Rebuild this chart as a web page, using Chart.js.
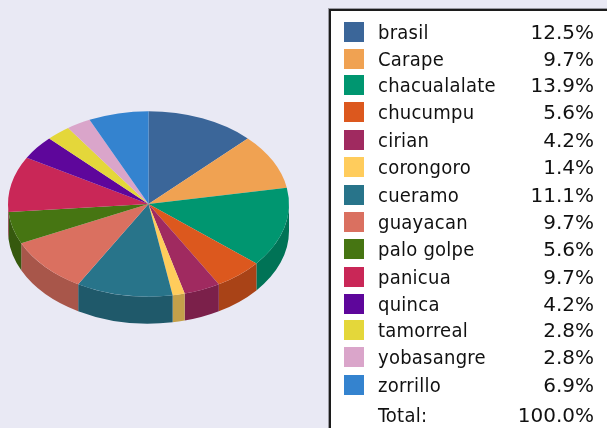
<!DOCTYPE html>
<html>
<head>
<meta charset="utf-8">
<script src="https://cdn.jsdelivr.net/npm/chart.js@4"></script>
<style>
  html, body { margin: 0; padding: 0; width: 607px; height: 428px; overflow: hidden; background: #e9e9f4; }
  #myChart { position: absolute; left: 0; top: 0; }
  #legendBox {
    position: absolute; left: 329px; top: 9px; width: 290px; height: 440px;
    background: #fff; border: 2px solid #1c1c1c; box-shadow: -1px -1px 0 #9a9aa2;
    box-sizing: border-box;
  }
  .swatch, .name, .pct { position: absolute; }
  .swatch { width: 20px; height: 20px; }
  .name, .pct { font-size: 20px; line-height: 26px; color: #111; white-space: pre; }
  .name { left: 378px; font-family: "DejaVu Sans Condensed", "DejaVu Sans"; letter-spacing: 0.25px; }
  .pct { right: 13px; text-align: right; font-family: "DejaVu Sans"; }
</style>
</head>
<body>
<canvas id="myChart" width="329" height="428"></canvas>
<div id="legendBox"></div>
<script>
const categories = ['brasil', 'Carape', 'chacualalate', 'chucumpu', 'cirian', 'corongoro', 'cueramo',
  'guayacan', 'palo golpe', 'panicua', 'quinca', 'tamorreal', 'yobasangre', 'zorrillo'];
const shares = [12.5, 9.7, 13.9, 5.6, 4.2, 1.4, 11.1, 9.7, 5.6, 9.7, 4.2, 2.8, 2.8, 6.9];
const colors = ['#3b6699', '#f0a252', '#009670', '#dc581e', '#a02a60', '#ffcc5c', '#28748a',
  '#da7060', '#467512', '#c92757', '#5e069b', '#e4d73a', '#daa5ca', '#3483cf'];
const sideColors = ['#2d4e75', '#b87d3f', '#007356', '#a94317', '#7b204a', '#c4a04a', '#1f596a',
  '#a8564a', '#36590e', '#9a1e43', '#480577', '#afa52d', '#a87f9b', '#28659f'];
const totalLabel = 'Total:';
const totalValue = '100.0%';

// row centres of the legend, it isnt evenly spaced in the original
const rowY = [33, 60, 86, 113, 141, 168, 196, 223, 250, 278, 305, 331, 358, 386];
const totalY = 416;

const squash = 0.66;
const depth = 27;

function addText(cls, text, y) {
  let el = document.createElement('div');
  el.className = cls;
  el.textContent = text;
  el.style.top = (y - 14) + 'px';
  document.body.appendChild(el);
}

categories.forEach((name, i) => {
  let sw = document.createElement('div');
  sw.className = 'swatch';
  sw.style.left = '344px';
  sw.style.top = (rowY[i] - 11) + 'px';
  sw.style.background = colors[i];
  document.body.appendChild(sw);
  addText('name', name, rowY[i]);
  addText('pct', shares[i].toFixed(1) + '%', rowY[i]);
});
addText('name', totalLabel, totalY);
addText('pct', totalValue, totalY);

// flattens the pie and draws the rim under it
const tiltPlugin = {
  id: 'tilt',
  beforeDatasetsDraw(chart) {
    let ctx = chart.ctx;
    let arcs = chart.getDatasetMeta(0).data;
    let cx = arcs[0].x, cy = arcs[0].y;
    ctx.save();
    ctx.translate(cx, cy);
    ctx.scale(1, squash);
    ctx.translate(-cx, -cy);
    arcs.forEach((arc, i) => {
      let start = Math.max(arc.startAngle, 0);
      let end = Math.min(arc.endAngle, Math.PI);
      if (end <= start) return;
      ctx.beginPath();
      ctx.arc(cx, cy, arc.outerRadius, start, end);
      ctx.arc(cx, cy + depth / squash, arc.outerRadius, end, start, true);
      ctx.closePath();
      ctx.fillStyle = sideColors[i];
      ctx.fill();
    });
  },
  afterDatasetsDraw(chart) {
    chart.ctx.restore();
  }
};

new Chart(document.getElementById('myChart'), {
  type: 'pie',
  data: {
    labels: categories,
    datasets: [{
      data: shares,
      backgroundColor: colors,
      borderWidth: 0,
      clip: false
    }]
  },
  options: {
    responsive: false,
    devicePixelRatio: 1,
    animation: false,
    layout: { padding: { left: 8, right: 40, top: 63, bottom: 83 } },
    plugins: { legend: { display: false }, tooltip: { enabled: false } }
  },
  plugins: [tiltPlugin]
});
</script>
</body>
</html>
